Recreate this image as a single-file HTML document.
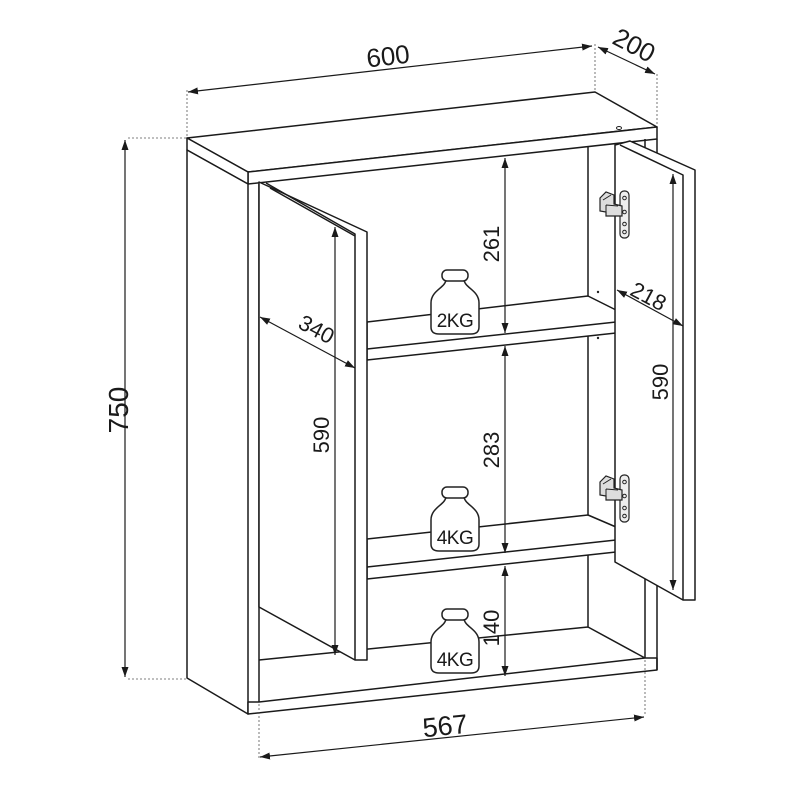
<!DOCTYPE html>
<html><head><meta charset="utf-8"><style>
html,body{margin:0;padding:0;background:#fff}
svg{display:block}
text{font-family:"Liberation Sans",sans-serif;fill:#1a1a1a}
</style></head><body>
<svg width="800" height="800" viewBox="0 0 800 800" xmlns="http://www.w3.org/2000/svg">
<defs>
<marker id="a" markerUnits="userSpaceOnUse" markerWidth="11" markerHeight="7" refX="10" refY="3.5" orient="auto-start-reverse"><path d="M0,0 L10,3.5 L0,7 z" fill="#1a1a1a"/></marker>
<g id="hinge">
<rect x="620" y="191" width="9" height="47" rx="4" fill="#eee" stroke="#222" stroke-width="1.2"/>
<circle cx="624.5" cy="198" r="1.8" fill="none" stroke="#222"/>
<circle cx="624.5" cy="212" r="1.8" fill="none" stroke="#222"/>
<circle cx="624.5" cy="224" r="1.8" fill="none" stroke="#222"/>
<circle cx="624.5" cy="232" r="1.8" fill="none" stroke="#222"/>
<path d="M600,198 L606,192 L614,195 L614,204 L622,206 L622,216 L606,216 L606,212 L600,211 z" fill="#ddd" stroke="#222" stroke-width="1.2"/>
<path d="M603,200 L611,195 M606,205 L618,206 M606,212 L606,205" stroke="#222" stroke-width="1" fill="none"/>
</g>
<g id="w">
<path d="M-9,9 C-9,18 -24,20 -24,33 L-24,57 Q-24,64 -16,64 L16,64 Q24,64 24,57 L24,33 C24,20 9,18 9,9 z" fill="#fff" stroke="#222" stroke-width="1.5"/>
<rect x="-13" y="0" width="26" height="11" rx="5" fill="#fff" stroke="#222" stroke-width="1.5"/>
</g>
</defs>
<g fill="#fff" stroke="#1a1a1a" stroke-width="1.5" stroke-linejoin="round">
<path d="M588,142 L588,627 M259,660 L588,627 L645,658" fill="none"/>
<polygon points="367,322 588,296 616,310 616,333 367,360"/>
<path d="M367,349 L616,322" fill="none"/>
<polygon points="367,539 588,515 616,527 616,552 367,579"/>
<path d="M367,567 L616,540" fill="none"/>
<polygon points="187,138 595,92 657,127 248,172"/>
<polygon points="248,172 657,127 657,139 248,184"/>
<polygon points="187,138 248,172 248,184 187,150"/>
<polygon points="187,150 248,184 248,714 187,678"/>
<path d="M259,184 L259,702" fill="none"/>
<polygon points="248,714 657,670 657,658 645,658 259,702 248,702"/>
<path d="M645,139 L645,658 M657,139 L657,670" fill="none"/>
<polygon points="259,182 367,232 367,660 355,660 259,607"/>
<path d="M266,183 L355,234 L355,660 M270,188 L355,236" fill="none"/>
<polygon points="615,145 630,141 695,170 695,600 683,600 615,562"/>
<path d="M620,145 L683,175 L683,600" fill="none"/>
</g>
<ellipse cx="619" cy="128" rx="2.5" ry="1.5" fill="none" stroke="#222"/>
<circle cx="598" cy="292" r="1.2" fill="#222"/><circle cx="598" cy="338" r="1.2" fill="#222"/>
<use href="#hinge"/>
<use href="#hinge" transform="translate(0,284)"/>
<g transform="translate(455,270)"><use href="#w"/><text x="0" y="57" font-size="19" text-anchor="middle" letter-spacing="-0.5">2KG</text></g>
<g transform="translate(455,487)"><use href="#w"/><text x="0" y="57" font-size="19" text-anchor="middle" letter-spacing="-0.5">4KG</text></g>
<g transform="translate(455,609)"><use href="#w"/><text x="0" y="57" font-size="19" text-anchor="middle" letter-spacing="-0.5">4KG</text></g>
<g stroke="#1a1a1a" stroke-width="1.2" fill="none">
<path d="M125,140 L125,677" marker-start="url(#a)" marker-end="url(#a)"/>
<path d="M188,92 L592,46" marker-start="url(#a)" marker-end="url(#a)"/>
<path d="M598,47 L655,74" marker-start="url(#a)" marker-end="url(#a)"/>
<path d="M260,757 L644,717" marker-start="url(#a)" marker-end="url(#a)"/>
<path d="M505,158 L505,333" marker-start="url(#a)" marker-end="url(#a)"/>
<path d="M505,346 L505,553" marker-start="url(#a)" marker-end="url(#a)"/>
<path d="M505,566 L505,676" marker-start="url(#a)" marker-end="url(#a)"/>
<path d="M335,227 L335,655" marker-start="url(#a)" marker-end="url(#a)"/>
<path d="M260,317 L355,368" marker-start="url(#a)" marker-end="url(#a)"/>
<path d="M673,174 L673,590" marker-start="url(#a)" marker-end="url(#a)"/>
<path d="M617,290 L683,326" marker-start="url(#a)" marker-end="url(#a)"/>
</g>
<g stroke="#555" stroke-width="0.8" stroke-dasharray="2,2" fill="none">
<path d="M128,138 L187,138 M128,679 L187,679 M187,90 L187,136 M595,44 L595,90 M657,74 L657,125 M259,704 L259,758 M645,660 L645,716"/>
</g>
<g font-size="26">
<text transform="translate(128,410) rotate(-90)" text-anchor="middle" font-size="28">750</text>
<text transform="translate(389,65) rotate(-6.5)" text-anchor="middle">600</text>
<text transform="translate(630,53) rotate(28)" text-anchor="middle">200</text>
<text transform="translate(446,735) rotate(-6)" text-anchor="middle" font-size="27">567</text>
<text transform="translate(499,244) rotate(-90)" text-anchor="middle" font-size="22">261</text>
<text transform="translate(499,450) rotate(-90)" text-anchor="middle" font-size="22">283</text>
<text transform="translate(499,628) rotate(-90)" text-anchor="middle" font-size="22">140</text>
<text transform="translate(329,435) rotate(-90)" text-anchor="middle" font-size="22">590</text>
<text transform="translate(313,336) rotate(28)" text-anchor="middle" font-size="22">340</text>
<text transform="translate(668,382) rotate(-90)" text-anchor="middle" font-size="22">590</text>
<text transform="translate(645,303) rotate(28)" text-anchor="middle" font-size="22">218</text>
</g>
</svg>
</body></html>
